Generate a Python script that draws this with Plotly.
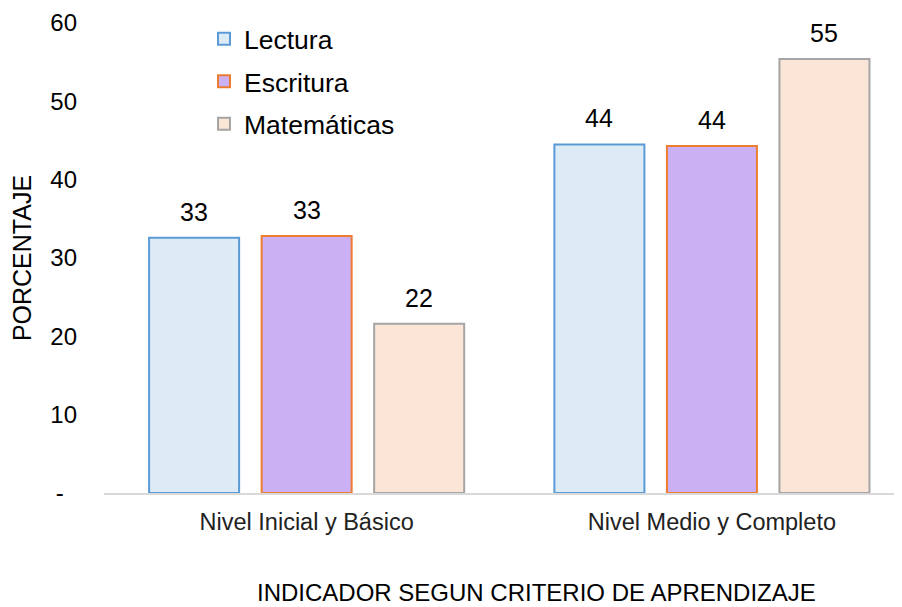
import plotly.graph_objects as go

categories = ["Nivel Inicial y Básico", "Nivel Medio y Completo"]
lectura = [32.6, 44.5]
escritura = [32.8, 44.3]
matematicas = [21.6, 55.4]
series_names = ["Lectura", "Escritura", "Matemáticas"]
y_tick_vals = [0, 10, 20, 30, 40, 50, 60]
y_tick_text = ["-\u00a0\u00a0", "10", "20", "30", "40", "50", "60"]
x_title = "INDICADOR SEGUN CRITERIO DE APRENDIZAJE"
y_title = "PORCENTAJE"

FONT = "Liberation Sans, Arial, sans-serif"
fills = ["#DDEBF7", "#CBB0F3", "#FBE5D6"]
borders = ["#5B9BD5", "#ED7D31", "#A5A5A5"]
all_values = [lectura, escritura, matematicas]

fig = go.Figure()
for i, (name, vals) in enumerate(zip(series_names, all_values)):
    fig.add_trace(go.Bar(
        x=categories, y=vals, name=name,
        marker=dict(color=fills[i], line=dict(color=borders[i], width=2)),
        legendgroup=name,
    ))

# data labels above bars
slot_px = 112.5
for i, vals in enumerate(all_values):
    for cat, v in zip(categories, vals):
        fig.add_annotation(
            x=cat, y=v, text=f"{round(v):d}", showarrow=False,
            xref="x", yref="y", yanchor="bottom",
            xshift=(i - 1) * slot_px, yshift=10,
            font=dict(family=FONT, size=25, color="#000000"),
        )

# x-axis title (centered on the full category band, which runs past the window edge)
fig.add_annotation(
    x=(536 - 104) / 798, y=0, xref="paper", yref="paper",
    xanchor="center", yanchor="top", yshift=-84,
    text=x_title, showarrow=False,
    font=dict(family=FONT, size=24, color="#000000"),
)

fig.update_layout(
    width=894, height=599,
    margin=dict(l=96, r=0, t=15, b=114, autoexpand=False),
    paper_bgcolor="white", plot_bgcolor="white",
    barmode="group", bargap=0.167, bargroupgap=0.2,
    font=dict(family=FONT, color="#000000"),
    showlegend=True,
    legend=dict(
        x=(196 - 96) / 798, y=1.017, xanchor="left", yanchor="top",
        font=dict(family=FONT, size=26.5, color="#000000"),
        traceorder="grouped", tracegroupgap=5,
        bgcolor="rgba(0,0,0,0)",
    ),
)
fig.update_xaxes(
    range=[-0.5, 1.469], tickangle=0,
    showline=True, linecolor="#D9D9D9", linewidth=2,
    showgrid=False, ticks="", ticklabelstandoff=7,
    tickfont=dict(family=FONT, size=23.5, color="#222222"),
)
fig.update_yaxes(
    range=[0, 60], tickvals=y_tick_vals, ticktext=y_tick_text,
    showgrid=False, zeroline=False, showline=False, ticks="",
    ticklabelstandoff=26,
    tickfont=dict(family=FONT, size=24, color="#000000"),
    title=dict(text=y_title, font=dict(family=FONT, size=25, color="#000000"), standoff=18),
)

fig.write_html("out.html")
